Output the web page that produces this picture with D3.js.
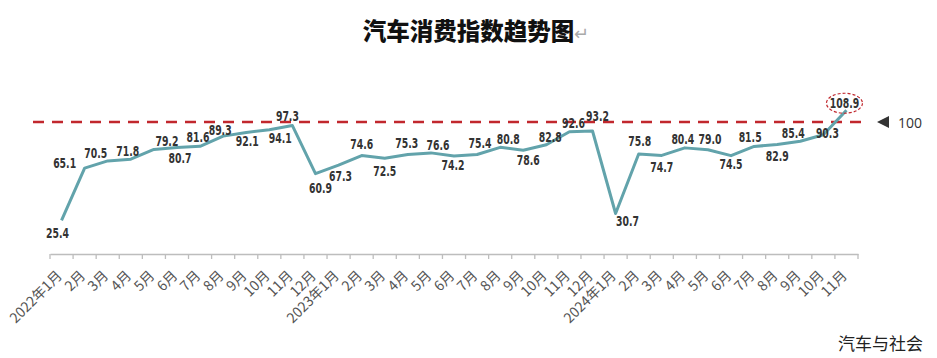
<!DOCTYPE html>
<html>
<head>
<meta charset="utf-8">
<script src="https://cdn.jsdelivr.net/npm/d3@7/dist/d3.min.js"></script>
<style>
  html, body { margin: 0; padding: 0; background: #fff; }
  svg { display: block; }
</style>
</head>
<body>
<svg id="chart" width="937" height="358"></svg>
<script>
// ---- data ----
const categories = [
  "2022年1月","2月","3月","4月","5月","6月","7月","8月","9月","10月","11月","12月",
  "2023年1月","2月","3月","4月","5月","6月","7月","8月","9月","10月","11月","12月",
  "2024年1月","2月","3月","4月","5月","6月","7月","8月","9月","10月","11月"
];
const values = [
  25.4,65.1,70.5,71.8,79.2,80.7,81.6,89.3,92.1,94.1,97.3,60.9,
  67.3,74.6,72.5,75.3,76.6,74.2,75.4,80.8,78.6,82.8,92.6,93.2,
  30.7,75.8,74.7,80.4,79.0,74.5,81.5,82.9,85.4,90.3,108.9
];
const referenceValue = 100;
const referenceLabel = "100";
const title = "汽车消费指数趋势图";
const source = "汽车与社会";
const highlightIndex = 34;

// label placement (text-centre offset from point, px)
const labelOffsets = [
  [-4,12],[-20,-5],[-12,-8],[-3,-8],[13,-9],[3,10],[-2,-9],[-3,-6],[1,8],[11,8],[-5,-10],[5,14],
  [2,11],[0,-12],[0,12],[-1,-12],[7,-8],[-1,9],[3,-12],[8,-9],[5,10],[4,-8],[4,-9],[5,-15],
  [12,7],[1,-13],[0,11],[-2,-9],[2,-11],[0,8],[-4,-10],[0,11],[-7,-8],[4,-2],[-2,-7]
];

// ---- layout ----
const svg = d3.select("#chart");
const left = 50, right = 858, axisY = 254;

const x = d3.scaleBand().domain(categories.map((c, i) => i)).range([left, right]).padding(0);
const y = d3.scaleLinear().domain([0, 100]).range([axisY, 122]);

// title
const t = svg.append("text")
  .attr("x", 476).attr("y", 40)
  .attr("text-anchor", "middle")
  .style("font-family", "'Noto Sans CJK SC', sans-serif")
  .style("font-size", "23.5px")
  .style("font-weight", "900")
  .attr("fill", "#111");
t.append("tspan").text(title);
t.append("tspan").text("↵").attr("fill", "#aaa").style("font-weight", "400").style("font-size", "18px");

// x axis
const xAxis = d3.axisBottom(x).tickSize(0).tickFormat(i => categories[i]);
const gx = svg.append("g").attr("transform", `translate(0,${axisY})`).call(xAxis);
gx.select(".domain").attr("stroke", "#bdbdbd").attr("stroke-width", 1.3);
gx.selectAll(".tick text")
  .attr("text-anchor", "end")
  .attr("transform", "rotate(-45)")
  .attr("dx", "-15px").attr("dy", "14px")
  .style("font-family", "'Noto Sans CJK SC', sans-serif")
  .style("font-size", "14px")
  .attr("fill", "#555");
// boundary ticks
const bounds = d3.range(categories.length + 1).map(i => left + i * x.bandwidth());
svg.append("g").selectAll("line").data(bounds).join("line")
  .attr("x1", d => d).attr("x2", d => d)
  .attr("y1", axisY).attr("y2", axisY + 5)
  .attr("stroke", "#bdbdbd").attr("stroke-width", 1.3);

// reference line
const ry = y(referenceValue);
svg.append("line")
  .attr("x1", 33).attr("x2", 868).attr("y1", ry).attr("y2", ry)
  .attr("stroke", "#c1272d").attr("stroke-width", 2.5)
  .attr("stroke-dasharray", "11,8");
svg.append("path")
  .attr("d", `M877,${ry} L889,${ry - 6} L889,${ry + 6} Z`)
  .attr("fill", "#333");
svg.append("text")
  .attr("x", 898).attr("y", ry).attr("dominant-baseline", "central")
  .style("font-family", "'Open Sans', 'DejaVu Sans', sans-serif")
  .style("font-size", "14px").attr("fill", "#333")
  .text(referenceLabel);

// line
const cx = i => x(i) + x.bandwidth() / 2;
const line = d3.line().x((d, i) => cx(i)).y(d => y(d));
svg.append("path").datum(values)
  .attr("d", line)
  .attr("fill", "none")
  .attr("stroke", "#62a3ab")
  .attr("stroke-width", 3)
  .attr("stroke-linejoin", "round");

// labels
svg.append("g").selectAll("text").data(values).join("text")
  .attr("transform", (d, i) => `translate(${cx(i) + labelOffsets[i][0]},${y(d) + labelOffsets[i][1]}) scale(0.74,1.05)`)
  .attr("text-anchor", "middle")
  .attr("dominant-baseline", "central")
  .style("font-family", "'DejaVu Sans Condensed', 'DejaVu Sans', sans-serif")
  .style("font-size", "14px")
  .style("font-weight", "bold")
  .attr("fill", "#333")
  .text(d => d.toFixed(1));

// highlight ellipse
svg.append("ellipse")
  .attr("cx", cx(highlightIndex) + labelOffsets[highlightIndex][0])
  .attr("cy", y(values[highlightIndex]) + labelOffsets[highlightIndex][1])
  .attr("rx", 18).attr("ry", 10)
  .attr("fill", "none")
  .attr("stroke", "#c1272d").attr("stroke-width", 1.2)
  .attr("stroke-dasharray", "3,2");

// source
svg.append("text")
  .attr("x", 923).attr("y", 350)
  .attr("text-anchor", "end")
  .style("font-family", "'Noto Sans CJK SC', sans-serif")
  .style("font-size", "17px")
  .attr("fill", "#222")
  .text(source);
</script>
</body>
</html>
